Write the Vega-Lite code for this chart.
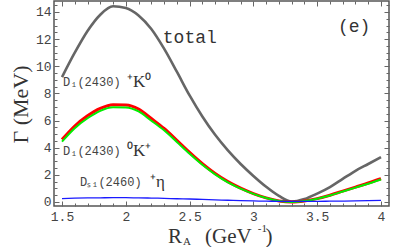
{
  "$schema": "https://vega.github.io/schema/vega-lite/v6.json",
  "width": 335,
  "height": 205,
  "autosize": {"type": "none"},
  "padding": {"left": 54, "top": 1, "right": 11, "bottom": 41},
  "background": "white",
  "config": {
    "view": {"stroke": "#555555", "strokeWidth": 1.5},
    "axis": {
      "domain": false,
      "grid": false,
      "labelFont": "Liberation Mono",
      "labelFontSize": 13,
      "labelColor": "#444444",
      "tickColor": "#666666",
      "tickWidth": 1,
      "labelOverlap": false,
      "labelFlush": false
    }
  },
  "datasets": {
    "curves": [
      {"x": 1.5, "total": 9.2, "red": 4.6, "green": 4.45, "blue": 0.25},
      {"x": 1.6, "total": 11.0, "red": 5.6, "green": 5.44, "blue": 0.28},
      {"x": 1.7, "total": 12.6, "red": 6.35, "green": 6.17, "blue": 0.3},
      {"x": 1.8, "total": 13.8, "red": 6.9, "green": 6.72, "blue": 0.31},
      {"x": 1.9, "total": 14.42, "red": 7.17, "green": 6.98, "blue": 0.32},
      {"x": 2.0, "total": 14.3, "red": 7.15, "green": 6.96, "blue": 0.32},
      {"x": 2.1, "total": 13.75, "red": 6.85, "green": 6.67, "blue": 0.3},
      {"x": 2.2, "total": 12.75, "red": 6.15, "green": 5.99, "blue": 0.29},
      {"x": 2.3, "total": 11.3, "red": 5.42, "green": 5.28, "blue": 0.27},
      {"x": 2.4, "total": 9.6, "red": 4.55, "green": 4.42, "blue": 0.24},
      {"x": 2.5, "total": 7.85, "red": 3.65, "green": 3.55, "blue": 0.22},
      {"x": 2.6, "total": 6.3, "red": 2.82, "green": 2.74, "blue": 0.19},
      {"x": 2.7, "total": 4.95, "red": 2.1, "green": 2.04, "blue": 0.16},
      {"x": 2.8, "total": 3.8, "red": 1.5, "green": 1.45, "blue": 0.13},
      {"x": 2.9, "total": 2.8, "red": 1.02, "green": 0.99, "blue": 0.1},
      {"x": 3.0, "total": 1.92, "red": 0.62, "green": 0.6, "blue": 0.08},
      {"x": 3.1, "total": 1.12, "red": 0.3, "green": 0.29, "blue": 0.06},
      {"x": 3.2, "total": 0.45, "red": 0.08, "green": 0.08, "blue": 0.05},
      {"x": 3.3, "total": 0.03, "red": 0.0, "green": 0.0, "blue": 0.04},
      {"x": 3.4, "total": 0.22, "red": 0.08, "green": 0.07, "blue": 0.05},
      {"x": 3.5, "total": 0.62, "red": 0.25, "green": 0.24, "blue": 0.05},
      {"x": 3.6, "total": 1.1, "red": 0.5, "green": 0.48, "blue": 0.06},
      {"x": 3.7, "total": 1.7, "red": 0.8, "green": 0.77, "blue": 0.07},
      {"x": 3.8, "total": 2.3, "red": 1.1, "green": 1.06, "blue": 0.08},
      {"x": 3.9, "total": 2.8, "red": 1.4, "green": 1.35, "blue": 0.1},
      {"x": 4.0, "total": 3.3, "red": 1.72, "green": 1.66, "blue": 0.12}
    ],
    "labels": [
      {"x": 2.29, "y": 12.1, "t": "total", "f": "mono18"},
      {"x": 3.663, "y": 12.9, "t": "(e)", "f": "mono18"},
      {"x": 1.508, "y": 8.84, "t": "D₁(2430)", "f": "mono12"},
      {"x": 2.009, "y": 8.84, "t": "⁺K⁰", "f": "serif17"},
      {"x": 1.508, "y": 3.76, "t": "D₁(2430)", "f": "mono12"},
      {"x": 2.009, "y": 3.76, "t": "⁰K⁺", "f": "serif17"},
      {"x": 1.641, "y": 1.47, "t": "Dₛ₁(2460)", "f": "mono12"},
      {"x": 2.19, "y": 1.47, "t": "⁺η", "f": "serif17"},
      {"x": 2.331, "y": -2.58, "t": "R", "f": "serif21"},
      {"x": 2.448, "y": -2.95, "t": "A", "f": "serif11"},
      {"x": 2.621, "y": -2.58, "t": "(GeV", "f": "serif21"},
      {"x": 3.035, "y": -1.99, "t": "-1", "f": "serif11"},
      {"x": 3.095, "y": -2.58, "t": ")", "f": "serif21"}
    ]
  },
  "layer": [
    {
      "data": {"name": "curves"},
      "transform": [{"fold": ["total", "red"], "as": ["series", "y"]}],
      "mark": {"type": "line", "interpolate": "monotone"},
      "encoding": {
        "x": {"field": "x", "type": "quantitative",
          "scale": {"domain": [1.4373, 4.0627], "nice": false, "zero": false},
          "axis": {"orient": "bottom", "title": null,
            "values": [1.5,1.6,1.7,1.8,1.9,2.0,2.1,2.2,2.3,2.4,2.5,2.6,2.7,2.8,2.9,3.0,3.1,3.2,3.3,3.4,3.5,3.6,3.7,3.8,3.9,4.0],
            "labelExpr": "abs(datum.value*2-round(datum.value*2))<0.001 ? datum.value + '' : ''",
            "tickSize": {"condition": {"test": "abs(datum.value*2-round(datum.value*2))<0.001", "value": -5}, "value": -3},
            "labelPadding": 9}},
        "y": {"field": "y", "type": "quantitative",
          "scale": {"domain": [-0.295, 14.81], "nice": false, "zero": false},
          "axis": {"orient": "left", "title": "Γ (MeV)",
            "titleFont": "Liberation Serif", "titleFontSize": 22, "titleFontWeight": "normal", "titleColor": "#333333",
            "titleX": -34, "titleY": 103, "titleAngle": -90, "titleAlign": "center", "titleBaseline": "middle",
            "values": [0,0.5,1,1.5,2,2.5,3,3.5,4,4.5,5,5.5,6,6.5,7,7.5,8,8.5,9,9.5,10,10.5,11,11.5,12,12.5,13,13.5,14,14.5],
            "labelExpr": "datum.value % 2 === 0 ? datum.value + '' : ''",
            "tickSize": {"condition": {"test": "datum.value % 2 === 0", "value": -5}, "value": -3},
            "labelPadding": 8}},
        "color": {"field": "series", "type": "nominal", "legend": null,
          "scale": {"domain": ["total", "red", "green", "blue"], "range": ["#666666", "#ff0000", "#00ee00", "#1a1aff"]}},
        "strokeWidth": {"field": "series", "type": "nominal", "legend": null,
          "scale": {"type": "ordinal", "domain": ["total", "red", "green", "blue"], "range": [2.6, 3, 2, 1.3]}}
      }
    },
    {
      "data": {"name": "curves"},
      "transform": [{"fold": ["green", "blue"], "as": ["series", "y"]}],
      "mark": {"type": "line", "interpolate": "monotone"},
      "encoding": {
        "x": {"field": "x", "type": "quantitative",
          "scale": {"domain": [1.4373, 4.0627], "nice": false, "zero": false},
          "axis": {"orient": "top", "title": null, "labels": false,
            "values": [1.5,1.6,1.7,1.8,1.9,2.0,2.1,2.2,2.3,2.4,2.5,2.6,2.7,2.8,2.9,3.0,3.1,3.2,3.3,3.4,3.5,3.6,3.7,3.8,3.9,4.0],
            "tickSize": {"condition": {"test": "abs(datum.value*2-round(datum.value*2))<0.001", "value": -5}, "value": -3}}},
        "y": {"field": "y", "type": "quantitative",
          "scale": {"domain": [-0.295, 14.81], "nice": false, "zero": false},
          "axis": {"orient": "right", "title": null, "labels": false,
            "values": [0,0.5,1,1.5,2,2.5,3,3.5,4,4.5,5,5.5,6,6.5,7,7.5,8,8.5,9,9.5,10,10.5,11,11.5,12,12.5,13,13.5,14,14.5],
            "tickSize": {"condition": {"test": "datum.value % 2 === 0", "value": -5}, "value": -3}}},
        "color": {"field": "series", "type": "nominal", "legend": null,
          "scale": {"domain": ["total", "red", "green", "blue"], "range": ["#666666", "#ff0000", "#00ee00", "#1a1aff"]}},
        "strokeWidth": {"field": "series", "type": "nominal", "legend": null,
          "scale": {"type": "ordinal", "domain": ["total", "red", "green", "blue"], "range": [2.6, 3, 2, 1.3]}}
      }
    },
    {
      "data": {"name": "labels"},
      "transform": [{"filter": "datum.f === 'mono18'"}],
      "mark": {"type": "text", "font": "Liberation Mono", "fontSize": 18, "color": "#333333", "align": "left", "baseline": "middle"},
      "encoding": {
        "x": {"field": "x", "type": "quantitative", "axis": null, "scale": {"domain": [1.4373, 4.0627], "nice": false, "zero": false}},
        "y": {"field": "y", "type": "quantitative", "axis": null, "scale": {"domain": [-0.295, 14.81], "nice": false, "zero": false}},
        "text": {"field": "t"}
      }
    },
    {
      "data": {"name": "labels"},
      "transform": [{"filter": "datum.f === 'mono12'"}],
      "mark": {"type": "text", "font": "Liberation Mono", "fontSize": 12, "color": "#444444", "align": "left", "baseline": "middle"},
      "encoding": {
        "x": {"field": "x", "type": "quantitative", "axis": null, "scale": {"domain": [1.4373, 4.0627], "nice": false, "zero": false}},
        "y": {"field": "y", "type": "quantitative", "axis": null, "scale": {"domain": [-0.295, 14.81], "nice": false, "zero": false}},
        "text": {"field": "t"}
      }
    },
    {
      "data": {"name": "labels"},
      "transform": [{"filter": "datum.f === 'serif17'"}],
      "mark": {"type": "text", "font": "Liberation Serif", "fontSize": 17, "color": "#333333", "align": "left", "baseline": "middle"},
      "encoding": {
        "x": {"field": "x", "type": "quantitative", "axis": null, "scale": {"domain": [1.4373, 4.0627], "nice": false, "zero": false}},
        "y": {"field": "y", "type": "quantitative", "axis": null, "scale": {"domain": [-0.295, 14.81], "nice": false, "zero": false}},
        "text": {"field": "t"}
      }
    },
    {
      "data": {"name": "labels"},
      "transform": [{"filter": "datum.f === 'serif21'"}],
      "mark": {"type": "text", "font": "Liberation Serif", "fontSize": 21, "color": "#333333", "align": "left", "baseline": "middle"},
      "encoding": {
        "x": {"field": "x", "type": "quantitative", "axis": null, "scale": {"domain": [1.4373, 4.0627], "nice": false, "zero": false}},
        "y": {"field": "y", "type": "quantitative", "axis": null, "scale": {"domain": [-0.295, 14.81], "nice": false, "zero": false}},
        "text": {"field": "t"}
      }
    },
    {
      "data": {"name": "labels"},
      "transform": [{"filter": "datum.f === 'serif11'"}],
      "mark": {"type": "text", "font": "Liberation Serif", "fontSize": 11, "color": "#333333", "align": "left", "baseline": "middle"},
      "encoding": {
        "x": {"field": "x", "type": "quantitative", "axis": null, "scale": {"domain": [1.4373, 4.0627], "nice": false, "zero": false}},
        "y": {"field": "y", "type": "quantitative", "axis": null, "scale": {"domain": [-0.295, 14.81], "nice": false, "zero": false}},
        "text": {"field": "t"}
      }
    }
  ],
  "resolve": {"axis": {"x": "independent", "y": "independent"}}
}
